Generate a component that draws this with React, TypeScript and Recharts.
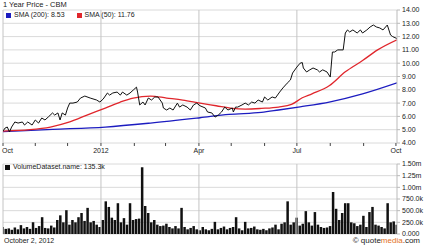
import { ComposedChart, Line, Bar, XAxis, YAxis, CartesianGrid, ReferenceLine } from 'recharts';

const FONT = '"Liberation Sans", Arial, sans-serif';
const TEXT = '#222';

// days since Oct 2, 2011
const priceDays = [
  0, 2, 4, 6, 8, 11, 14, 18, 20, 23, 27, 30, 33, 36, 39, 42, 46, 48, 51, 53, 55, 58, 60, 62, 65, 69, 72, 76, 81, 87,
  90, 93, 97, 99, 102, 106, 109, 111, 115, 118, 121, 124, 125, 127, 130, 132, 135, 138, 141, 144, 148, 149, 152, 155,
  158, 162, 164, 167, 171, 174, 177, 180, 183, 188, 190, 194, 197, 200, 203, 206, 209, 213, 214, 216, 218, 222, 225,
  228, 231, 234, 237, 241, 243, 246, 250, 253, 257, 260, 264, 267, 269, 273, 276, 278, 279, 282, 285, 288, 292, 294,
  297, 301, 304, 306, 308, 311, 316, 318, 320, 322, 325, 329, 332, 334, 338, 341, 344, 347, 350, 353, 357, 360, 362, 366,
];
const priceValues = [
  4.9, 5.13, 5.2, 4.83, 5.2, 5.58, 5.5, 5.58, 5.35, 5.58, 5.35, 5.73, 5.5, 5.88, 5.73, 5.95, 6.26, 6.1, 6.26, 5.73,
  6.26, 6.1, 6.63, 7.0, 7.0, 7.08, 7.38, 7.53, 7.38, 7.23, 7.08, 7.3, 7.76, 7.6, 7.76, 7.83, 7.6, 7.83, 7.6, 7.76,
  7.98, 8.2, 7.83, 6.86, 7.08, 6.86, 7.38, 7.23, 7.46, 7.46, 7.0, 6.63, 6.48, 6.63, 6.48, 7.0, 6.7, 6.86, 6.7, 6.48,
  6.86, 7.0, 6.8, 6.63, 6.33, 6.26, 5.95, 6.1, 6.33, 6.7, 6.48, 6.63, 6.33, 6.7, 6.7, 6.86, 7.0, 6.86, 7.08, 7.0,
  7.23, 7.08, 7.46, 7.23, 7.46, 7.38, 7.83, 8.14, 8.5, 8.74, 9.26, 9.71, 10.0, 10.05, 9.64, 9.34, 9.5, 9.64, 9.5,
  9.34, 9.5, 9.34, 8.96, 10.84, 10.84, 11.0, 11.0, 12.27, 12.5, 12.35, 12.5, 12.27, 12.5, 12.27, 12.5, 12.72, 12.87,
  12.72, 12.65, 12.5, 12.87, 12.12, 12.0, 11.85,
];

const sma200Days = [0, 46, 95, 137, 183, 210, 240, 256, 276, 304, 334, 366];
const sma200Values = [4.85, 5.02, 5.2, 5.5, 5.9, 6.15, 6.3, 6.48, 6.72, 7.1, 7.7, 8.53];

const sma50Days = [0, 25, 44, 62, 78, 95, 109, 121, 137, 152, 167, 183, 198, 213, 225, 240, 256, 268, 278, 287, 303, 318, 334, 348, 366];
const sma50Values = [4.9, 5.0, 5.2, 5.58, 6.1, 6.63, 7.08, 7.38, 7.53, 7.38, 7.23, 7.0, 6.8, 6.6, 6.55, 6.6, 6.7, 6.9, 7.4, 7.7, 8.3, 9.35, 10.2, 11.0, 11.76];

// volume in thousands, evenly spaced over the year
const volumes = [
  150, 110, 120, 90, 140, 100, 190, 120, 150, 110, 250, 130, 170, 360, 130, 120, 180, 140, 300, 400,
  250, 510, 200, 300, 250, 360, 450, 280, 560, 250, 280, 200, 150, 300, 700, 580, 350, 300, 660, 250,
  340, 200, 660, 300, 320, 330, 1430, 600, 450, 250, 300, 200, 170, 180, 220, 150, 120, 170, 120, 560,
  150, 100, 130, 170, 100, 80, 150, 100, 80, 110, 260, 100, 130, 160, 100, 130, 150, 360, 120, 80,
  260, 120, 130, 160, 100, 90, 110, 80, 120, 140, 200, 100, 220, 250, 700, 200, 250, 350, 180, 220,
  490, 250, 180, 470, 200, 150, 130, 140, 170, 900, 540, 300, 450, 660, 660, 250, 230, 170, 200, 390,
  150, 470, 580, 200, 180, 150, 120, 660, 250, 270, 200,
];

const monthDays = [0, 30, 60, 91, 122, 151, 182, 212, 243, 273, 304, 335, 365];
const quarterDays = [0, 91, 182, 273, 365];
const quarterLabels = ['Oct', '2012', 'Apr', 'Jul', 'Oct'];
const priceTicks = [4, 5, 6, 7, 8, 9, 10, 11, 12, 13, 14];
const volumeTicks = [0, 250, 500, 750, 1000, 1250, 1500];

const priceData = priceDays.map((day, i) => ({ day, price: priceValues[i] }));
const sma200Data = sma200Days.map((day, i) => ({ day, sma: sma200Values[i] }));
const sma50Data = sma50Days.map((day, i) => ({ day, sma: sma50Values[i] }));
const volumeData = volumes.map((vol, i) => ({ day: (i * 366) / (volumes.length - 1), vol }));

function fmtVol(v: number) {
  if (v === 0) return '0.000';
  if (v >= 1000) return (v / 1000).toFixed(2) + 'm';
  return v.toFixed(1) + 'k';
}

const DateTick = ({ x, y, payload }: any) => {
  const idx = quarterDays.indexOf(payload.value);
  if (idx < 0) return null;
  const first = payload.value === 0;
  return (
    <text x={first ? x - 1 : x} y={y} dy="0.71em" textAnchor={first ? 'start' : 'middle'} fontSize={7} fill={TEXT} fontFamily={FONT}>
      {quarterLabels[idx]}
    </text>
  );
};

const gridX = [0, 91, 182, 273];

export default function App() {
  return (
    <div style={{ position: 'absolute', left: 0, top: 0, width: 425, height: 248, background: '#fff', fontFamily: FONT, color: TEXT, overflow: 'hidden' }}>
      {/* Price chart */}
      <div style={{ position: 'absolute', left: 0, top: 0 }}>
        <ComposedChart width={425} height={158} margin={{ top: 10, right: 0, bottom: 0, left: 3 }}>
          <CartesianGrid vertical={false} stroke="#dadada" />
          <XAxis
            type="number"
            dataKey="day"
            domain={[0, 366]}
            ticks={monthDays}
            interval={0}
            tick={<DateTick />}
            tickSize={3}
            tickLine={{ stroke: '#444' }}
            axisLine={false}
            height={15}
            allowDataOverflow
          />
          <YAxis
            orientation="right"
            domain={[4, 14]}
            ticks={priceTicks}
            interval={0}
            width={28}
            tickFormatter={(v) => v.toFixed(2)}
            tick={{ fontSize: 7, fill: TEXT, fontFamily: FONT }}
            tickSize={3}
            tickLine={{ stroke: '#bbb' }}
            axisLine={{ stroke: '#bbb' }}
          />
          {gridX.map((d) => (
            <ReferenceLine key={d} x={d} stroke="#c4c4c4" />
          ))}
          <Line data={sma200Data} dataKey="sma" type="monotone" stroke="#1c1cc0" strokeWidth={1.3} dot={false} isAnimationActive={false} />
          <Line data={sma50Data} dataKey="sma" type="monotone" stroke="#e0262c" strokeWidth={1.3} dot={false} isAnimationActive={false} />
          <Line data={priceData} dataKey="price" type="linear" stroke="#111" strokeWidth={1} dot={false} isAnimationActive={false} />
        </ComposedChart>
      </div>

      <div style={{ position: 'absolute', left: 3, top: 0, fontSize: 7.5, lineHeight: '10px' }}>1 Year Price - CBM</div>
      <div style={{ position: 'absolute', left: 6, top: 10, fontSize: 7, lineHeight: '10px', display: 'flex', alignItems: 'center' }}>
        <span style={{ width: 5, height: 5, background: '#1c1cc0', marginRight: 3 }} />
        <span>SMA (200): 8.53</span>
        <span style={{ width: 5, height: 5, background: '#e0262c', marginLeft: 12, marginRight: 3 }} />
        <span>SMA (50): 11.76</span>
      </div>

      {/* Volume chart */}
      <div style={{ position: 'absolute', left: 0, top: 158 }}>
        <ComposedChart width={425} height={78} data={volumeData} margin={{ top: 6, right: 0, bottom: 2, left: 3 }}>
          <CartesianGrid vertical={false} stroke="#dadada" />
          <XAxis type="number" dataKey="day" domain={[0, 366]} hide allowDataOverflow />
          <YAxis
            orientation="right"
            domain={[0, 1500]}
            ticks={volumeTicks}
            interval={0}
            width={28}
            tickFormatter={fmtVol}
            tick={{ fontSize: 7, fill: TEXT, fontFamily: FONT }}
            tickSize={3}
            tickLine={{ stroke: '#bbb' }}
            axisLine={{ stroke: '#bbb' }}
          />
          {gridX.map((d) => (
            <ReferenceLine key={d} x={d} stroke="#c4c4c4" />
          ))}
          <Bar dataKey="vol" fill="#111" barSize={2.5} isAnimationActive={false} />
        </ComposedChart>
      </div>

      <div style={{ position: 'absolute', left: 5, top: 162, fontSize: 7, lineHeight: '10px', display: 'flex', alignItems: 'center' }}>
        <span style={{ width: 5, height: 5, background: '#111', marginRight: 3 }} />
        <span>VolumeDataset.name: 135.3k</span>
      </div>

      <div style={{ position: 'absolute', left: 4, top: 236, fontSize: 7, lineHeight: '10px' }}>October 2, 2012</div>
      <div style={{ position: 'absolute', right: 5, top: 236, fontSize: 8, lineHeight: '10px' }}>
        © quote<span style={{ color: '#e2701a' }}>media</span>.com
      </div>
    </div>
  );
}
